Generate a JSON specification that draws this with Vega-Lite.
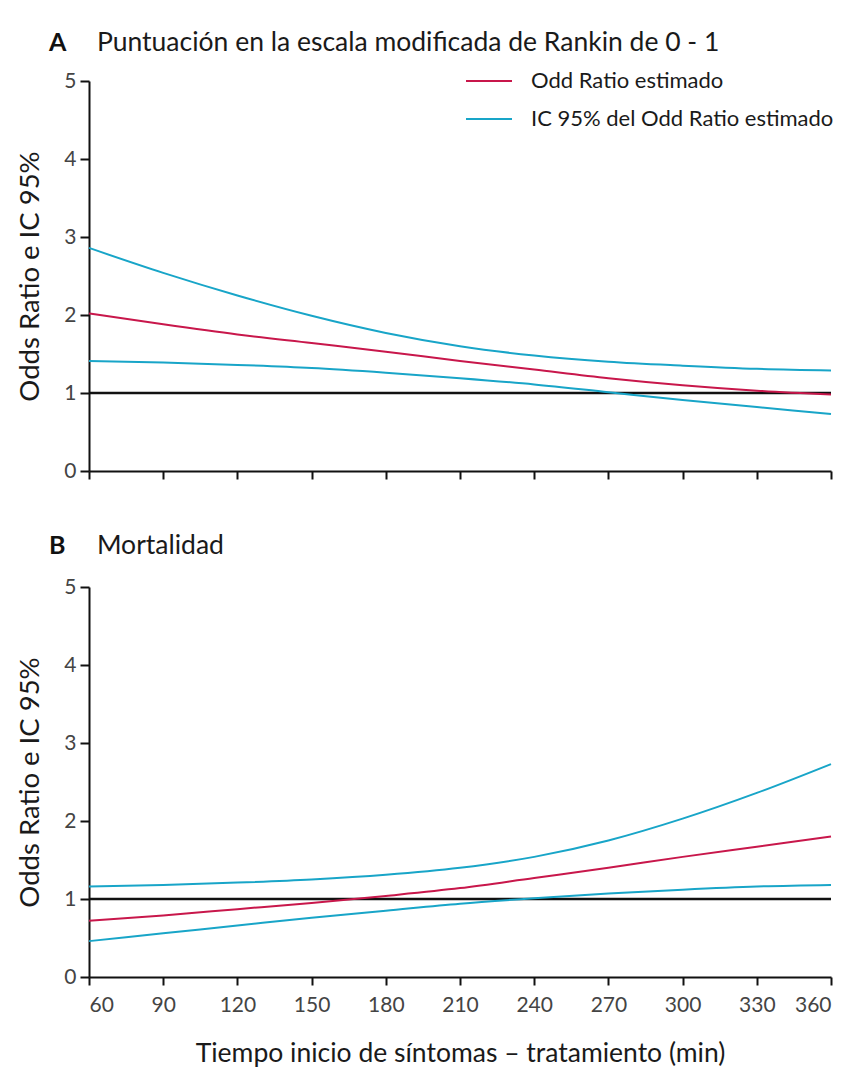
{
  "$schema": "https://vega.github.io/schema/vega-lite/v6.json",
  "background": "white",
  "padding": {"left": 16, "top": 30, "right": 10, "bottom": 4},
  "spacing": 52,
  "config": {
    "font": "Lato",
    "view": {"stroke": null},
    "axis": {
      "grid": false,
      "domainColor": "#111111",
      "domainWidth": 2,
      "tickColor": "#111111",
      "tickWidth": 2,
      "tickSize": 9,
      "labelFontSize": 21,
      "labelColor": "#444444",
      "labelFont": "Lato",
      "titleFont": "Lato",
      "titleFontSize": 26.5,
      "titleFontWeight": "normal",
      "titleColor": "#1a1a1a"
    }
  },
  "datasets": {
    "curvas": [
      {"panel": "A", "curva": "sup", "serie": "IC 95% del Odd Ratio estimado", "t": 60, "or": 2.86},
      {"panel": "A", "curva": "sup", "serie": "IC 95% del Odd Ratio estimado", "t": 90, "or": 2.54},
      {"panel": "A", "curva": "sup", "serie": "IC 95% del Odd Ratio estimado", "t": 120, "or": 2.25},
      {"panel": "A", "curva": "sup", "serie": "IC 95% del Odd Ratio estimado", "t": 150, "or": 1.99},
      {"panel": "A", "curva": "sup", "serie": "IC 95% del Odd Ratio estimado", "t": 180, "or": 1.77},
      {"panel": "A", "curva": "sup", "serie": "IC 95% del Odd Ratio estimado", "t": 210, "or": 1.6},
      {"panel": "A", "curva": "sup", "serie": "IC 95% del Odd Ratio estimado", "t": 240, "or": 1.48},
      {"panel": "A", "curva": "sup", "serie": "IC 95% del Odd Ratio estimado", "t": 270, "or": 1.4},
      {"panel": "A", "curva": "sup", "serie": "IC 95% del Odd Ratio estimado", "t": 300, "or": 1.35},
      {"panel": "A", "curva": "sup", "serie": "IC 95% del Odd Ratio estimado", "t": 330, "or": 1.31},
      {"panel": "A", "curva": "sup", "serie": "IC 95% del Odd Ratio estimado", "t": 360, "or": 1.29},
      {"panel": "A", "curva": "or", "serie": "Odd Ratio estimado", "t": 60, "or": 2.02},
      {"panel": "A", "curva": "or", "serie": "Odd Ratio estimado", "t": 90, "or": 1.88},
      {"panel": "A", "curva": "or", "serie": "Odd Ratio estimado", "t": 120, "or": 1.75},
      {"panel": "A", "curva": "or", "serie": "Odd Ratio estimado", "t": 150, "or": 1.64},
      {"panel": "A", "curva": "or", "serie": "Odd Ratio estimado", "t": 180, "or": 1.53},
      {"panel": "A", "curva": "or", "serie": "Odd Ratio estimado", "t": 210, "or": 1.41},
      {"panel": "A", "curva": "or", "serie": "Odd Ratio estimado", "t": 240, "or": 1.3},
      {"panel": "A", "curva": "or", "serie": "Odd Ratio estimado", "t": 270, "or": 1.19},
      {"panel": "A", "curva": "or", "serie": "Odd Ratio estimado", "t": 300, "or": 1.1},
      {"panel": "A", "curva": "or", "serie": "Odd Ratio estimado", "t": 330, "or": 1.03},
      {"panel": "A", "curva": "or", "serie": "Odd Ratio estimado", "t": 360, "or": 0.98},
      {"panel": "A", "curva": "inf", "serie": "IC 95% del Odd Ratio estimado", "t": 60, "or": 1.41},
      {"panel": "A", "curva": "inf", "serie": "IC 95% del Odd Ratio estimado", "t": 90, "or": 1.39},
      {"panel": "A", "curva": "inf", "serie": "IC 95% del Odd Ratio estimado", "t": 120, "or": 1.36},
      {"panel": "A", "curva": "inf", "serie": "IC 95% del Odd Ratio estimado", "t": 150, "or": 1.32},
      {"panel": "A", "curva": "inf", "serie": "IC 95% del Odd Ratio estimado", "t": 180, "or": 1.26},
      {"panel": "A", "curva": "inf", "serie": "IC 95% del Odd Ratio estimado", "t": 210, "or": 1.19},
      {"panel": "A", "curva": "inf", "serie": "IC 95% del Odd Ratio estimado", "t": 240, "or": 1.11},
      {"panel": "A", "curva": "inf", "serie": "IC 95% del Odd Ratio estimado", "t": 270, "or": 1.01},
      {"panel": "A", "curva": "inf", "serie": "IC 95% del Odd Ratio estimado", "t": 300, "or": 0.91},
      {"panel": "A", "curva": "inf", "serie": "IC 95% del Odd Ratio estimado", "t": 330, "or": 0.82},
      {"panel": "A", "curva": "inf", "serie": "IC 95% del Odd Ratio estimado", "t": 360, "or": 0.73},
      {"panel": "B", "curva": "sup", "serie": "IC 95% del Odd Ratio estimado", "t": 60, "or": 1.16},
      {"panel": "B", "curva": "sup", "serie": "IC 95% del Odd Ratio estimado", "t": 90, "or": 1.18},
      {"panel": "B", "curva": "sup", "serie": "IC 95% del Odd Ratio estimado", "t": 120, "or": 1.21},
      {"panel": "B", "curva": "sup", "serie": "IC 95% del Odd Ratio estimado", "t": 150, "or": 1.25},
      {"panel": "B", "curva": "sup", "serie": "IC 95% del Odd Ratio estimado", "t": 180, "or": 1.31},
      {"panel": "B", "curva": "sup", "serie": "IC 95% del Odd Ratio estimado", "t": 210, "or": 1.4},
      {"panel": "B", "curva": "sup", "serie": "IC 95% del Odd Ratio estimado", "t": 240, "or": 1.54},
      {"panel": "B", "curva": "sup", "serie": "IC 95% del Odd Ratio estimado", "t": 270, "or": 1.75},
      {"panel": "B", "curva": "sup", "serie": "IC 95% del Odd Ratio estimado", "t": 300, "or": 2.03},
      {"panel": "B", "curva": "sup", "serie": "IC 95% del Odd Ratio estimado", "t": 330, "or": 2.36},
      {"panel": "B", "curva": "sup", "serie": "IC 95% del Odd Ratio estimado", "t": 360, "or": 2.73},
      {"panel": "B", "curva": "or", "serie": "Odd Ratio estimado", "t": 60, "or": 0.72},
      {"panel": "B", "curva": "or", "serie": "Odd Ratio estimado", "t": 90, "or": 0.79},
      {"panel": "B", "curva": "or", "serie": "Odd Ratio estimado", "t": 120, "or": 0.87},
      {"panel": "B", "curva": "or", "serie": "Odd Ratio estimado", "t": 150, "or": 0.95},
      {"panel": "B", "curva": "or", "serie": "Odd Ratio estimado", "t": 180, "or": 1.04},
      {"panel": "B", "curva": "or", "serie": "Odd Ratio estimado", "t": 210, "or": 1.14},
      {"panel": "B", "curva": "or", "serie": "Odd Ratio estimado", "t": 240, "or": 1.27},
      {"panel": "B", "curva": "or", "serie": "Odd Ratio estimado", "t": 270, "or": 1.4},
      {"panel": "B", "curva": "or", "serie": "Odd Ratio estimado", "t": 300, "or": 1.54},
      {"panel": "B", "curva": "or", "serie": "Odd Ratio estimado", "t": 330, "or": 1.67},
      {"panel": "B", "curva": "or", "serie": "Odd Ratio estimado", "t": 360, "or": 1.8},
      {"panel": "B", "curva": "inf", "serie": "IC 95% del Odd Ratio estimado", "t": 60, "or": 0.46},
      {"panel": "B", "curva": "inf", "serie": "IC 95% del Odd Ratio estimado", "t": 90, "or": 0.56},
      {"panel": "B", "curva": "inf", "serie": "IC 95% del Odd Ratio estimado", "t": 120, "or": 0.66},
      {"panel": "B", "curva": "inf", "serie": "IC 95% del Odd Ratio estimado", "t": 150, "or": 0.76},
      {"panel": "B", "curva": "inf", "serie": "IC 95% del Odd Ratio estimado", "t": 180, "or": 0.85},
      {"panel": "B", "curva": "inf", "serie": "IC 95% del Odd Ratio estimado", "t": 210, "or": 0.94},
      {"panel": "B", "curva": "inf", "serie": "IC 95% del Odd Ratio estimado", "t": 240, "or": 1.01},
      {"panel": "B", "curva": "inf", "serie": "IC 95% del Odd Ratio estimado", "t": 270, "or": 1.07},
      {"panel": "B", "curva": "inf", "serie": "IC 95% del Odd Ratio estimado", "t": 300, "or": 1.12},
      {"panel": "B", "curva": "inf", "serie": "IC 95% del Odd Ratio estimado", "t": 330, "or": 1.16},
      {"panel": "B", "curva": "inf", "serie": "IC 95% del Odd Ratio estimado", "t": 360, "or": 1.18}
    ]
  },
  "resolve": {"scale": {"color": "independent"}, "legend": {"color": "independent"}},
  "vconcat": [
    {
      "width": 742,
      "height": 390,
      "layer": [
        {
          "data": {"values": [{"ref": 1}]},
          "mark": {"type": "rule", "color": "#111111", "strokeWidth": 2.5},
          "encoding": {"y": {"field": "ref", "type": "quantitative", "scale": {"domain": [0, 5], "nice": false}}}
        },
        {
          "data": {"name": "curvas"},
          "transform": [{"filter": "datum.panel === 'A'"}],
          "mark": {"type": "line", "interpolate": "monotone", "strokeWidth": 2},
          "encoding": {
            "x": {"field": "t", "type": "quantitative", "scale": {"domain": [60, 360], "nice": false},
              "axis": {"values": [60, 90, 120, 150, 180, 210, 240, 270, 300, 330, 360], "labels": false, "title": null, "tickSize": 8}},
            "y": {"field": "or", "type": "quantitative", "scale": {"domain": [0, 5], "nice": false},
              "axis": {"values": [0, 1, 2, 3, 4, 5], "format": "d", "title": "Odds Ratio e IC 95%", "titleFontSize": 27.5, "titlePadding": 19, "labelPadding": 4}},
            "color": {"field": "serie", "type": "nominal",
              "scale": {"domain": ["Odd Ratio estimado", "IC 95% del Odd Ratio estimado"], "range": ["#c8174b", "#18a5c8"]},
              "legend": {"title": null, "orient": "none", "legendX": 376, "legendY": -24, "padding": 0,
                "symbolType": "stroke", "symbolSize": 2116, "symbolStrokeWidth": 2, "labelOffset": 18, "labelLimit": 0,
                "labelFontSize": 22, "labelFont": "Lato", "labelColor": "#1a1a1a", "rowPadding": 3}},
            "detail": {"field": "curva", "type": "nominal"}
          }
        },
        {
          "data": {"values": [{"letra": "A", "titulo": "Puntuación en la escala modificada de Rankin de 0 - 1"}]},
          "layer": [
            {
              "mark": {"type": "text", "align": "left", "baseline": "alphabetic", "fontSize": 25, "fontWeight": "bold", "color": "#111111", "font": "Lato"},
              "encoding": {"text": {"field": "letra"}, "x": {"datum": 43.8}, "y": {"datum": 5.38}}
            },
            {
              "mark": {"type": "text", "align": "left", "baseline": "alphabetic", "fontSize": 26.5, "color": "#1a1a1a", "font": "Lato"},
              "encoding": {"text": {"field": "titulo"}, "x": {"datum": 63.2}, "y": {"datum": 5.38}}
            }
          ]
        }
      ]
    },
    {
      "width": 742,
      "height": 390,
      "layer": [
        {
          "data": {"values": [{"ref": 1}]},
          "mark": {"type": "rule", "color": "#111111", "strokeWidth": 2.5},
          "encoding": {"y": {"field": "ref", "type": "quantitative", "scale": {"domain": [0, 5], "nice": false}}}
        },
        {
          "data": {"name": "curvas"},
          "transform": [{"filter": "datum.panel === 'B'"}],
          "mark": {"type": "line", "interpolate": "monotone", "strokeWidth": 2},
          "encoding": {
            "x": {"field": "t", "type": "quantitative", "scale": {"domain": [60, 360], "nice": false},
              "axis": {"values": [60, 90, 120, 150, 180, 210, 240, 270, 300, 330, 360], "title": "Tiempo inicio de síntomas – tratamiento (min)", "tickSize": 8, "labelPadding": 9, "titlePadding": 25}},
            "y": {"field": "or", "type": "quantitative", "scale": {"domain": [0, 5], "nice": false},
              "axis": {"values": [0, 1, 2, 3, 4, 5], "format": "d", "title": "Odds Ratio e IC 95%", "titleFontSize": 27.5, "titlePadding": 19, "labelPadding": 4}},
            "color": {"field": "serie", "type": "nominal",
              "scale": {"domain": ["Odd Ratio estimado", "IC 95% del Odd Ratio estimado"], "range": ["#c8174b", "#18a5c8"]},
              "legend": null},
            "detail": {"field": "curva", "type": "nominal"}
          }
        },
        {
          "data": {"values": [{"letra": "B", "titulo": "Mortalidad"}]},
          "layer": [
            {
              "mark": {"type": "text", "align": "left", "baseline": "alphabetic", "fontSize": 25, "fontWeight": "bold", "color": "#111111", "font": "Lato"},
              "encoding": {"text": {"field": "letra"}, "x": {"datum": 43.8}, "y": {"datum": 5.42}}
            },
            {
              "mark": {"type": "text", "align": "left", "baseline": "alphabetic", "fontSize": 26.5, "color": "#1a1a1a", "font": "Lato"},
              "encoding": {"text": {"field": "titulo"}, "x": {"datum": 63.2}, "y": {"datum": 5.42}}
            }
          ]
        }
      ]
    }
  ]
}
